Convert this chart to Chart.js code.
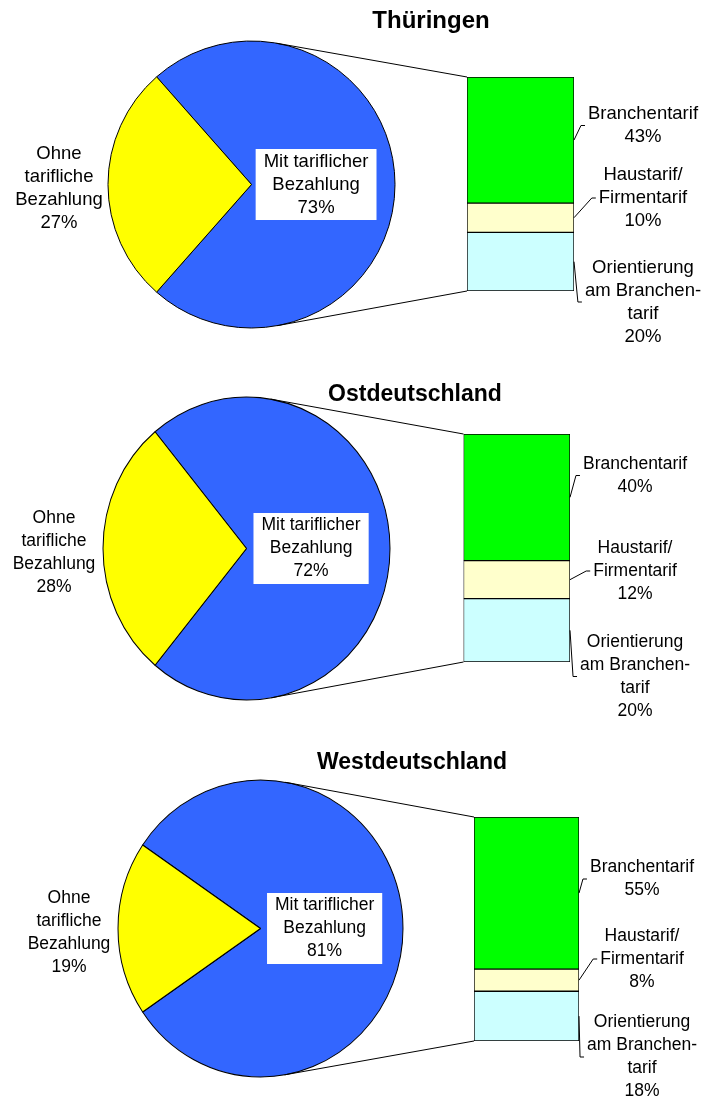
<!DOCTYPE html>
<html lang="de">
<head>
<meta charset="utf-8">
<title>Tarifliche Bezahlung</title>
<script src="https://cdn.jsdelivr.net/npm/chart.js@4.4.1/dist/chart.umd.min.js"></script>
<style>
  html, body { margin: 0; padding: 0; background: #fff; }
  .panel { position: relative; width: 707px; height: 366px; }
  .panel canvas { position: absolute; left: 0; top: 0; }
</style>
</head>
<body>
<div class="panel"><canvas id="pie0" width="707" height="366"></canvas><canvas id="bar0" width="707" height="366"></canvas></div>
<div class="panel"><canvas id="pie1" width="707" height="366"></canvas><canvas id="bar1" width="707" height="366"></canvas></div>
<div class="panel"><canvas id="pie2" width="707" height="366"></canvas><canvas id="bar2" width="707" height="366"></canvas></div>
<script>
// Daten
var regionen = ['Thüringen', 'Ostdeutschland', 'Westdeutschland'];
var mitTarif = [73, 72, 81];
var ohneTarif = [27, 28, 19];
var orientierung = [20, 20, 18];
var haustarif = [10, 12, 8];
var branchentarif = [43, 40, 55];

var pieTexte = [['Mit tariflicher', 'Bezahlung'], ['Ohne', 'tarifliche', 'Bezahlung']];
// Reihenfolge im Balken von unten nach oben
var barTexte = [['Orientierung', 'am Branchen-', 'tarif'], ['Haustarif/', 'Firmentarif'], ['Branchentarif']];

// Lage der Elemente je Feld (Pixel im Feld)
var lage = [
  { titelX: 431, titelY: 28, titelGr: 24, schrift: 18.5, cx: 251.5, cy: 184.5, r: 143.5, sy: 1,
    bar: [467, 574, 77, 291], textX: 643, textY: [302, 198, 125.5] },
  { titelX: 415, titelY: 35, titelGr: 23, schrift: 17.5, cx: 246.5, cy: 182.5, r: 143.5, sy: 1.056,
    bar: [463.5, 570, 68, 296], textX: 635, textY: [310.5, 205, 109.5] },
  { titelX: 412, titelY: 37, titelGr: 23, schrift: 17.5, cx: 260.5, cy: 196.5, r: 142.5, sy: 1.042,
    bar: [474, 579, 85, 309], textX: 642, textY: [325, 227, 147] }
];

var W = 707, H = 366, ZEILE = 23;
var FONT = "'Liberation Sans', Arial, sans-serif";

function zeilen(c, lines, x, yMitte) {
  var y0 = yMitte - (lines.length - 1) * ZEILE / 2;
  lines.forEach(function (t, k) { c.fillText(t, x, y0 + k * ZEILE); });
}

function pieDeko(L, i) {
  return {
    id: 'pieDeko',
    beforeDatasetsDraw: function (chart) {
      var arc = chart.getDatasetMeta(0).data[0];
      var c = chart.ctx;
      c.save();
      c.translate(arc.x, arc.y);
      c.scale(1, L.sy);
      c.translate(-arc.x, -arc.y);
    },
    afterDatasetsDraw: function (chart) {
      chart.ctx.restore();
    },
    afterDraw: function (chart) {
      var arc = chart.getDatasetMeta(0).data[0];
      var c = chart.ctx;
      c.save();
      c.fillStyle = '#000';
      c.textAlign = 'center';
      // Titel
      c.font = 'bold ' + L.titelGr + 'px ' + FONT;
      c.textBaseline = 'alphabetic';
      c.fillText(regionen[i], L.titelX, L.titelY);

      c.font = L.schrift + 'px ' + FONT;
      c.textBaseline = 'middle';
      // Beschriftung im Kreis mit weissem Kasten
      var innen = pieTexte[0].concat([mitTarif[i] + '%']);
      var bx = arc.x + 0.45 * arc.outerRadius, by = arc.y;
      var bw = Math.max.apply(null, innen.map(function (t) { return c.measureText(t).width; })) + 16;
      var bh = innen.length * ZEILE + 2;
      c.fillStyle = '#fff';
      c.fillRect(bx - bw / 2, by - bh / 2, bw, bh);
      c.fillStyle = '#000';
      zeilen(c, innen, bx, by);
      // Beschriftung links
      var aussen = pieTexte[1].concat([ohneTarif[i] + '%']);
      zeilen(c, aussen, arc.x - arc.outerRadius - 49, arc.y + 4);
      c.restore();
    }
  };
}

function barDeko(L, i, pie) {
  return {
    id: 'barDeko',
    afterDraw: function (chart) {
      var c = chart.ctx;
      var p = pie.getDatasetMeta(0).data[0];
      var r = p.outerRadius;
      var unten = chart.getDatasetMeta(0).data[0];
      var oben = chart.getDatasetMeta(2).data[0];
      var links = unten.x - unten.width / 2, rechts = unten.x + unten.width / 2;

      function tangente(px, py, obenSeite) {
        var qy = p.y + (py - p.y) / L.sy;
        var dx = px - p.x, dy = qy - p.y;
        var d = Math.sqrt(dx * dx + dy * dy);
        var phi = Math.atan2(dy, dx);
        var a = Math.acos(r / d);
        var t = obenSeite ? phi - a : phi + a;
        return [p.x + r * Math.cos(t), p.y + L.sy * r * Math.sin(t)];
      }

      c.save();
      c.strokeStyle = '#000';
      c.lineWidth = 1;
      var t1 = tangente(links, oben.y, true);
      var t2 = tangente(links, unten.base, false);
      c.beginPath();
      c.moveTo(t1[0], t1[1]); c.lineTo(links, oben.y);
      c.moveTo(t2[0], t2[1]); c.lineTo(links, unten.base);
      c.stroke();

      // Beschriftung der Balkenteile
      var werte = [orientierung[i], haustarif[i], branchentarif[i]];
      c.font = L.schrift + 'px ' + FONT;
      c.textAlign = 'center';
      c.textBaseline = 'middle';
      c.fillStyle = '#000';
      for (var j = 0; j < 3; j++) {
        var el = chart.getDatasetMeta(j).data[0];
        var segY = (el.y + el.base) / 2;
        var lines = barTexte[j].concat([werte[j] + '%']);
        var mw = Math.max.apply(null, lines.map(function (t) { return c.measureText(t).width; }));
        var tl = L.textX - mw / 2;
        var ty = L.textY[j];
        c.beginPath();
        c.moveTo(rechts, segY);
        c.lineTo(tl - 7, ty);
        c.lineTo(tl - 3, ty);
        c.stroke();
        zeilen(c, lines, L.textX, ty);
      }
      c.restore();
    }
  };
}

regionen.forEach(function (name, i) {
  var L = lage[i];

  var pie = new Chart(document.getElementById('pie' + i).getContext('2d'), {
    type: 'pie',
    data: {
      labels: ['Mit tariflicher Bezahlung', 'Ohne tarifliche Bezahlung'],
      datasets: [{
        data: [mitTarif[i], ohneTarif[i]],
        backgroundColor: ['#3366FF', '#FFFF00'],
        borderColor: '#000000',
        borderWidth: 1,
        clip: false
      }]
    },
    options: {
      responsive: false,
      animation: false,
      events: [],
      // gelbes Stueck mittig nach links
      rotation: 270 - 3.6 * mitTarif[i] - 1.8 * ohneTarif[i],
      radius: L.r,
      layout: { padding: { left: L.cx - L.r, right: W - L.cx - L.r, top: L.cy - L.r, bottom: H - L.cy - L.r } },
      plugins: { legend: { display: false }, tooltip: { enabled: false } }
    },
    plugins: [pieDeko(L, i)]
  });

  new Chart(document.getElementById('bar' + i).getContext('2d'), {
    type: 'bar',
    data: {
      labels: [name],
      datasets: [
        { label: 'Orientierung am Branchentarif', data: [orientierung[i]], backgroundColor: '#CCFFFF' },
        { label: 'Haustarif/Firmentarif', data: [haustarif[i]], backgroundColor: '#FFFFCC' },
        { label: 'Branchentarif', data: [branchentarif[i]], backgroundColor: '#00FF00' }
      ]
    },
    options: {
      responsive: false,
      animation: false,
      events: [],
      layout: { padding: { left: L.bar[0], right: W - L.bar[1], top: L.bar[2], bottom: H - L.bar[3] } },
      datasets: { bar: { barPercentage: 1, categoryPercentage: 1, borderColor: '#000000', borderWidth: 1, borderSkipped: false } },
      scales: {
        x: { stacked: true, display: false },
        y: { stacked: true, display: false, min: 0, max: mitTarif[i] }
      },
      plugins: { legend: { display: false }, tooltip: { enabled: false } }
    },
    plugins: [barDeko(L, i, pie)]
  });
});
</script>
</body>
</html>
